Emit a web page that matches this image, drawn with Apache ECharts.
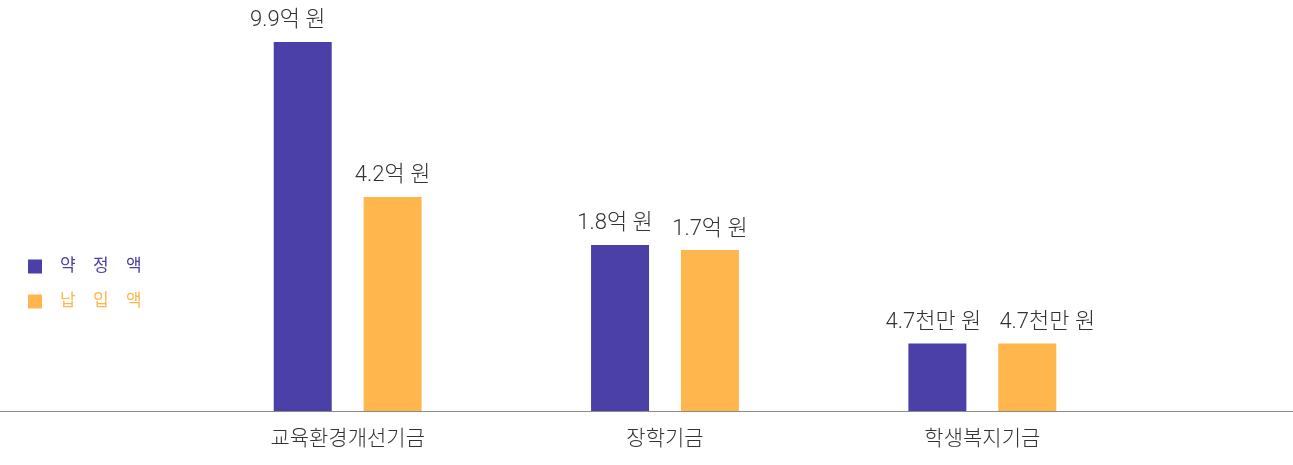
<!DOCTYPE html>
<html>
<head>
<meta charset="utf-8">
<script src="https://cdn.jsdelivr.net/npm/echarts@6/dist/echarts.min.js"></script>
<style>
html,body{margin:0;padding:0;background:#fff;}
#chart{width:1293px;height:465px;}
</style>
</head>
<body>
<div id="chart"></div>
<script>
// 기금별 약정액 / 납입액 (막대 높이는 그림에서 읽은 상대값)
var categories = ['교육환경개선기금', '장학기금', '학생복지기금'];
var seriesNames = ['약정액', '납입액'];
var pledgeHeight = [100, 45, 18.3];
var paidHeight = [58, 43.6, 18.3];
var pledgeLabels = ['9.9억 원', '1.8억 원', '4.7천만 원'];
var paidLabels = ['4.2억 원', '1.7억 원', '4.7천만 원'];

var colors = ['#4a40a8', '#ffb64d'];
var fontFamily = "Roboto, 'Noto Sans CJK KR', sans-serif";
// 원본처럼 라벨을 약간 옆으로 밀어줌 (겹침 방지)
var pledgeLabelShift = [-15, -5, -4];
var paidLabelShift = [0, 0, 20];

var chart = echarts.init(document.getElementById('chart'));

function makeSeries(name, values, labels, shifts, color){
    return {
        name: name,
        type: 'bar',
        barWidth: 58,
        barGap: '55%',
        itemStyle: { color: color },
        label: {
            show: true,
            position: 'top',
            distance: 10,
            fontSize: 22,
            fontWeight: 300,
            color: '#333',
            fontFamily: fontFamily,
            formatter: function(p){ return labels[p.dataIndex]; }
        },
        data: values.map(function(v, i){
            return { value: v, label: { offset: [shifts[i], 0] } };
        })
    };
}

var option = {
    animation: false,
    color: colors,
    legend: {
        orient: 'vertical',
        left: 23,
        top: 253,
        itemWidth: 14,
        itemHeight: 14,
        itemGap: 18,
        icon: 'rect',
        textStyle: { fontSize: 17, fontFamily: fontFamily, color: 'inherit', padding: [0, 0, 0, 13] },
        formatter: function(name){ return name.split('').join('\u2003'); },
        data: seriesNames
    },
    grid: [
        { left: 189, right: 152, top: 42, bottom: 54 },
        { left: 0, right: 0, top: 42, bottom: 54 }
    ],
    xAxis: [
        {
            type: 'category',
            gridIndex: 0,
            data: categories,
            axisLine: { show: false },
            axisTick: { show: false },
            axisLabel: { margin: 18, fontSize: 21, fontWeight: 300, color: '#333', fontFamily: fontFamily }
        },
        {
            type: 'category',
            gridIndex: 1,
            data: [''],
            axisLine: { show: true, lineStyle: { color: '#8a8a8a', width: 1 } },
            axisTick: { show: false },
            axisLabel: { show: false }
        }
    ],
    yAxis: [
        { type: 'value', gridIndex: 0, min: 0, max: 100, show: false },
        { type: 'value', gridIndex: 1, min: 0, max: 100, show: false }
    ],
    series: [
        makeSeries(seriesNames[0], pledgeHeight, pledgeLabels, pledgeLabelShift, colors[0]),
        makeSeries(seriesNames[1], paidHeight, paidLabels, paidLabelShift, colors[1])
    ]
};
chart.setOption(option);
</script>
</body>
</html>
